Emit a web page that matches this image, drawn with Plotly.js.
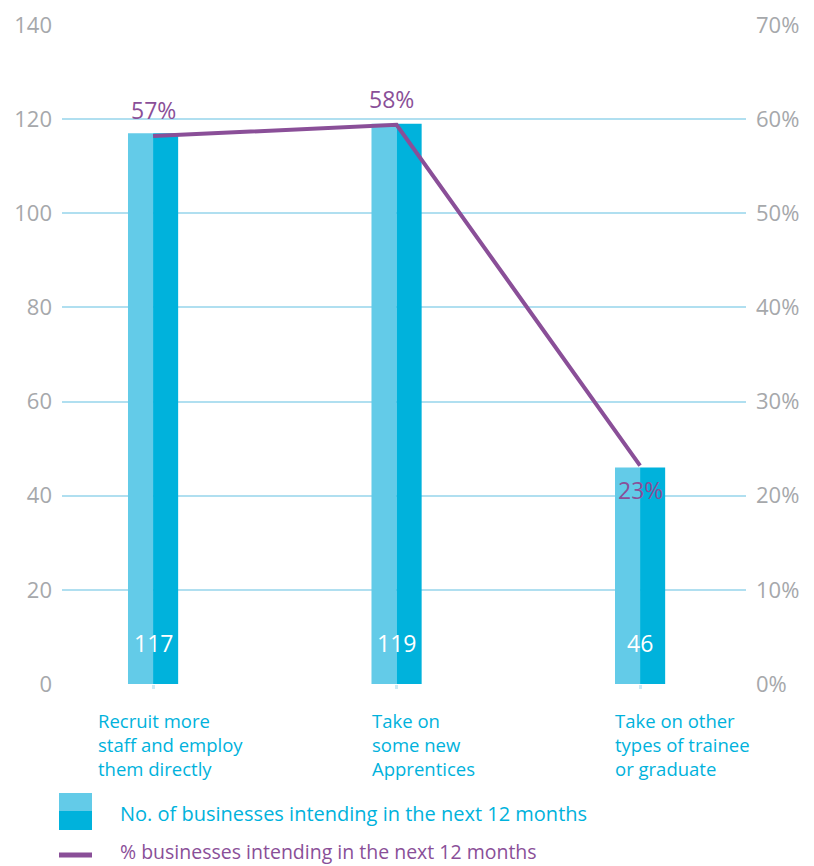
<!DOCTYPE html>
<html>
<head>
<meta charset="utf-8">
<script src="https://cdn.plot.ly/plotly-3.0.1.min.js"></script>
<style>html,body{margin:0;padding:0;background:#fff}#chart{width:814px;height:866px}</style>
</head>
<body>
<div id="chart"></div>
<script>
const categories = ["Recruit more<br>staff and employ<br>them directly", "Take on<br>some new<br>Apprentices", "Take on other<br>types of trainee<br>or graduate"];
const businessCounts = [117, 119, 46];
const pctLine = [58.2, 59.4, 23.2];
const pctLabels = ["57%", "58%", "23%"];
const leftTicks = [0, 20, 40, 60, 80, 100, 120, 140];
const rightTicks = [0, 10, 20, 30, 40, 50, 60, 70];
const legendNames = ["No. of businesses intending in the next 12 months", "% businesses intending in the next 12 months"];

const LIGHT = "#63cbe8", DARK = "#00b2dc", PURPLE = "#8a4f98", GRAY = "#a6a8ab", GRID = "#b0dff0";
const FONT = "Open Sans, sans-serif";
const W = 814, H = 866, ML = 62, MR = 68, MT = 25, MB = 182;
const px = x => (x - ML) / (W - ML - MR);
const py = y => (H - MB - y) / (H - MT - MB);

const xIdx = categories.map((c, i) => i);
const halfW = 0.103;
const catShift = [-55, -25, -25];

const traces = [
  {type: "bar", x: xIdx, y: businessCounts, width: halfW, offset: -halfW, marker: {color: LIGHT}, hoverinfo: "skip", showlegend: false},
  {type: "bar", x: xIdx, y: businessCounts, width: halfW, offset: 0, marker: {color: DARK}, hoverinfo: "skip", showlegend: false},
  {type: "scatter", mode: "lines", x: xIdx, y: pctLine, yaxis: "y2", line: {color: PURPLE, width: 4}, hoverinfo: "skip", showlegend: false}
];

const annotations = [];
xIdx.forEach((x, i) => {
  annotations.push({x: x, y: 0, xref: "x", yref: "y", text: String(businessCounts[i]), showarrow: false, yanchor: "middle", yshift: 41, font: {family: FONT, size: 23, color: "#ffffff"}});
  const below = i === 2;
  annotations.push({x: x, y: pctLine[i], xref: "x", yref: "y2", text: pctLabels[i], showarrow: false, yanchor: "middle", yshift: below ? -24 : 26, xshift: i === 1 ? -5 : 0, font: {family: FONT, size: 23, color: PURPLE}});
  annotations.push({x: x, y: 0, xref: "x", yref: "y", text: categories[i], showarrow: false, xanchor: "left", yanchor: "top", align: "left", xshift: catShift[i] - 2, yshift: -22, font: {family: FONT, size: 18.5, color: DARK}});
});
annotations.push({x: px(118), y: py(813), xref: "paper", yref: "paper", text: legendNames[0], showarrow: false, xanchor: "left", yanchor: "middle", font: {family: FONT, size: 20, color: DARK}});
annotations.push({x: px(118), y: py(851), xref: "paper", yref: "paper", text: legendNames[1], showarrow: false, xanchor: "left", yanchor: "middle", font: {family: FONT, size: 19.5, color: PURPLE}});

const shapes = [
  {type: "rect", xref: "paper", yref: "paper", x0: px(59), x1: px(92), y0: py(811), y1: py(793), fillcolor: LIGHT, line: {width: 0}},
  {type: "rect", xref: "paper", yref: "paper", x0: px(59), x1: px(92), y0: py(830), y1: py(811), fillcolor: DARK, line: {width: 0}},
  {type: "line", xref: "paper", yref: "paper", x0: px(59), x1: px(92), y0: py(855), y1: py(855), line: {color: PURPLE, width: 5}}
];

const layout = {
  width: W, height: H,
  margin: {l: ML, r: MR, t: MT, b: MB, pad: 0},
  paper_bgcolor: "#ffffff", plot_bgcolor: "#ffffff",
  showlegend: false,
  xaxis: {range: [-0.374, 2.435], tickvals: xIdx, showticklabels: false, ticks: "outside", ticklen: 4, tickwidth: 3, tickcolor: "#cdeaf5", showgrid: false, zeroline: false, showline: false, fixedrange: true},
  yaxis: {range: [0, 140], tickvals: leftTicks, ticktext: leftTicks.map(String), showgrid: true, gridcolor: GRID, gridwidth: 2, zeroline: false, showline: false, ticks: "", ticklabelstandoff: 9, tickfont: {family: FONT, size: 22, color: GRAY}, fixedrange: true},
  yaxis2: {range: [0, 70], overlaying: "y", side: "right", tickvals: rightTicks, ticktext: rightTicks.map(v => v + "%"), showgrid: false, zeroline: false, showline: false, ticks: "", ticklabelstandoff: 9, tickfont: {family: FONT, size: 22, color: GRAY}, fixedrange: true},
  annotations: annotations,
  shapes: shapes,
  font: {family: FONT}
};

Plotly.newPlot("chart", traces, layout, {staticPlot: true, displayModeBar: false});
</script>
</body>
</html>
